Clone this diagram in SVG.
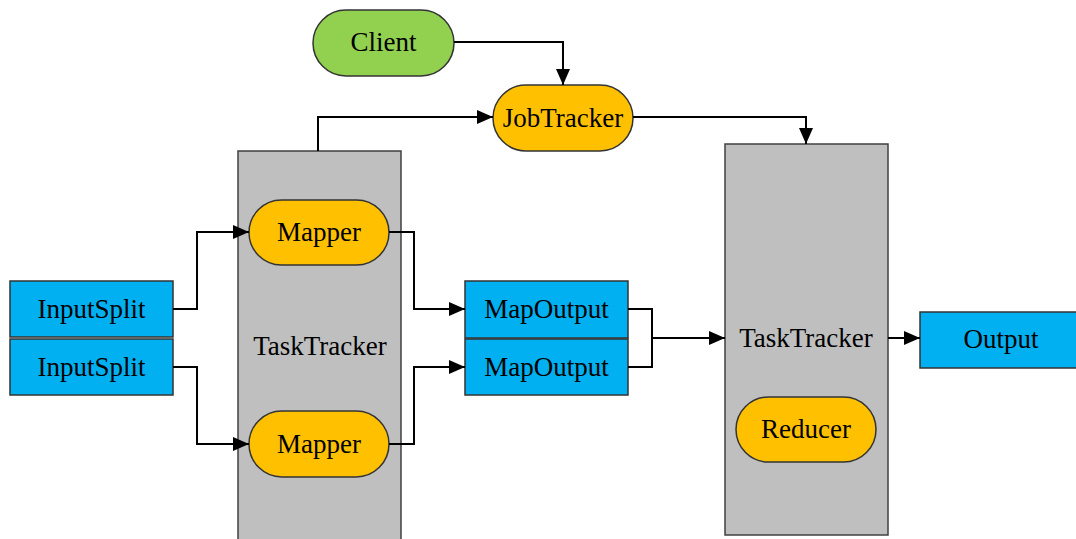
<svg xmlns="http://www.w3.org/2000/svg" width="1076" height="539" viewBox="0 0 1076 539">
  <style>
    .lbl { font-family: "Liberation Serif", "Times New Roman", serif; font-size: 27px; fill: #000; text-anchor: middle; }
    .tracker { fill: #BFBFBF; stroke: #404040; stroke-width: 1.5; }
    .blue { fill: #00B0F0; stroke: #333; stroke-width: 1.5; }
    .orange { fill: #FFC000; stroke: #333; stroke-width: 1.5; }
    .green { fill: #92D050; stroke: #333; stroke-width: 1.5; }
    .edge { fill: none; stroke: #000; stroke-width: 2; }
  </style>
  <defs>
    <marker id="arrow" viewBox="0 0 16 14" refX="16" refY="7" markerWidth="16" markerHeight="14" markerUnits="userSpaceOnUse" orient="auto">
      <path d="M0,0 L16,7 L0,14 Z" fill="#000"/>
    </marker>
  </defs>
  <rect width="1076" height="539" fill="#fff"/>

  <!-- worker trackers (containers) -->
  <g id="tasktracker-map">
    <rect class="tracker" x="238" y="151" width="163" height="400"/>
    <text class="lbl" x="320" y="355">TaskTracker</text>
  </g>
  <g id="tasktracker-reduce">
    <rect class="tracker" x="725" y="144" width="163" height="391"/>
    <text class="lbl" x="806" y="347">TaskTracker</text>
  </g>

  <g id="client">
    <rect class="green" x="313" y="10" width="141" height="66" rx="33" ry="33"/>
    <text class="lbl" x="383.5" y="51">Client</text>
  </g>
  <g id="jobtracker">
    <rect class="orange" x="493" y="85" width="140" height="66" rx="33" ry="33"/>
    <text class="lbl" x="563" y="127">JobTracker</text>
  </g>

  <g id="inputsplit-1">
    <rect class="blue" x="10" y="281" width="163" height="56"/>
    <text class="lbl" x="91.5" y="318">InputSplit</text>
  </g>
  <g id="inputsplit-2">
    <rect class="blue" x="10" y="339" width="163" height="56"/>
    <text class="lbl" x="91.5" y="376">InputSplit</text>
  </g>

  <g id="mapper-1">
    <rect class="orange" x="249" y="200" width="140" height="65" rx="32.5" ry="32.5"/>
    <text class="lbl" x="319" y="241">Mapper</text>
  </g>
  <g id="mapper-2">
    <rect class="orange" x="249" y="411" width="140" height="66" rx="33" ry="33"/>
    <text class="lbl" x="319" y="453">Mapper</text>
  </g>

  <g id="mapoutput-1">
    <rect class="blue" x="465" y="281" width="163" height="57"/>
    <text class="lbl" x="546.5" y="318">MapOutput</text>
  </g>
  <g id="mapoutput-2">
    <rect class="blue" x="465" y="339" width="163" height="56"/>
    <text class="lbl" x="546.5" y="376">MapOutput</text>
  </g>

  <g id="reducer">
    <rect class="orange" x="736" y="397" width="140" height="65" rx="32.5" ry="32.5"/>
    <text class="lbl" x="806" y="438">Reducer</text>
  </g>

  <g id="output">
    <rect class="blue" x="920" y="312" width="162" height="56"/>
    <text class="lbl" x="1001" y="348">Output</text>
  </g>

  <!-- connectors -->
  <g id="connectors">
    <path class="edge" d="M454,42 H563 V85" marker-end="url(#arrow)"/>
    <path class="edge" d="M318,151 V117 H493" marker-end="url(#arrow)"/>
    <path class="edge" d="M633,117 H806 V144" marker-end="url(#arrow)"/>
    <path class="edge" d="M173,309 H197 V232 H249" marker-end="url(#arrow)"/>
    <path class="edge" d="M173,367 H197 V444 H249" marker-end="url(#arrow)"/>
    <path class="edge" d="M389,232 H414 V309 H465" marker-end="url(#arrow)"/>
    <path class="edge" d="M389,444 H414 V367 H465" marker-end="url(#arrow)"/>
    <path class="edge" d="M628,309 H652 V367 H628"/>
    <path class="edge" d="M652,338 H725" marker-end="url(#arrow)"/>
    <path class="edge" d="M888,338 H920" marker-end="url(#arrow)"/>
  </g>
</svg>
